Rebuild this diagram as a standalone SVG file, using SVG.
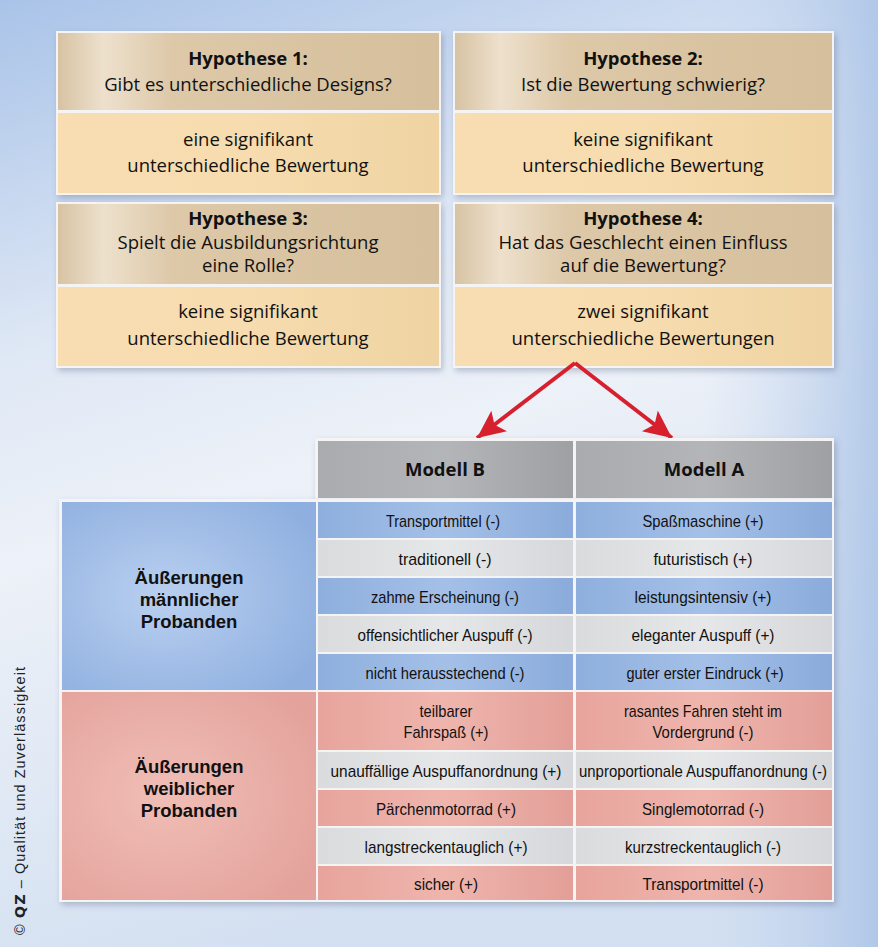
<svg xmlns="http://www.w3.org/2000/svg" width="878" height="947" viewBox="0 0 878 947">
<defs>
<linearGradient id="bg" x1="0" y1="0" x2="0.3" y2="1">
<stop offset="0" stop-color="#a9c3e8"/>
<stop offset="0.35" stop-color="#dfe8f5"/>
<stop offset="0.55" stop-color="#edf1f8"/>
<stop offset="1" stop-color="#d3e0f1"/>
</linearGradient>
<linearGradient id="bgR" x1="0" y1="0" x2="1" y2="0">
<stop offset="0.8" stop-color="#c5d6ee" stop-opacity="0"/>
<stop offset="1" stop-color="#a7c1e6" stop-opacity="0.8"/>
</linearGradient>
<linearGradient id="hd" x1="0" y1="0" x2="1" y2="0">
<stop offset="0" stop-color="#d7c3a3"/>
<stop offset="0.12" stop-color="#ede0cc"/>
<stop offset="0.3" stop-color="#ddc8a8"/>
<stop offset="1" stop-color="#d5bf9c"/>
</linearGradient>
<linearGradient id="lo" x1="0" y1="0" x2="1" y2="0">
<stop offset="0" stop-color="#f7ddb1"/>
<stop offset="0.5" stop-color="#f6dcaf"/>
<stop offset="1" stop-color="#efd3a2"/>
</linearGradient>
<linearGradient id="gr" x1="0" y1="0" x2="1" y2="0">
<stop offset="0" stop-color="#a9abae"/>
<stop offset="0.5" stop-color="#b3b5b8"/>
<stop offset="1" stop-color="#9ea0a3"/>
</linearGradient>
<radialGradient id="blueBlk" cx="0.4" cy="0.5" r="0.7">
<stop offset="0" stop-color="#b9cff0"/>
<stop offset="1" stop-color="#8eafdf"/>
</radialGradient>
<radialGradient id="redBlk" cx="0.4" cy="0.5" r="0.7">
<stop offset="0" stop-color="#f0beb6"/>
<stop offset="1" stop-color="#e3a29b"/>
</radialGradient>
<linearGradient id="bl" x1="0" y1="0" x2="1" y2="0">
<stop offset="0" stop-color="#8eafdd"/>
<stop offset="0.5" stop-color="#a4c0e8"/>
<stop offset="1" stop-color="#8aabdb"/>
</linearGradient>
<linearGradient id="rd" x1="0" y1="0" x2="1" y2="0">
<stop offset="0" stop-color="#e7a49c"/>
<stop offset="0.5" stop-color="#efb5ad"/>
<stop offset="1" stop-color="#e29f98"/>
</linearGradient>
<linearGradient id="gy" x1="0" y1="0" x2="1" y2="0">
<stop offset="0" stop-color="#dadbdd"/>
<stop offset="0.5" stop-color="#e6e7e9"/>
<stop offset="1" stop-color="#d6d7da"/>
</linearGradient>
<filter id="sh" x="-5%" y="-5%" width="110%" height="115%">
<feDropShadow dx="2" dy="3" stdDeviation="3" flood-color="#506080" flood-opacity="0.35"/>
</filter>
<marker id="ah" markerUnits="userSpaceOnUse" markerWidth="32" markerHeight="28" refX="28" refY="13" orient="auto">
<path d="M0,0 L28,13 L0,26 L6,13 Z" fill="#d7202e"/>
</marker>
</defs>
<style>
.t{font-family:"Open Sans","Noto Sans",sans-serif;font-size:18.5px;fill:#111;text-anchor:middle}
.b{font-weight:bold}
.lbl{font-family:"Liberation Sans","Noto Sans",sans-serif;font-size:18.5px;font-weight:bold;fill:#111;text-anchor:middle}
.c{font-family:"Liberation Sans","Noto Sans",sans-serif;font-size:17px;fill:#111;text-anchor:middle}
.hdr{fill:url(#hd)}
.low{fill:url(#lo)}
.frame{fill:#f4f4f4}
.bl{fill:url(#bl)}
.rd{fill:url(#rd)}
.gy{fill:url(#gy)}
</style>
<rect x="0" y="0" width="878" height="947" fill="url(#bg)"/>
<rect x="0" y="0" width="878" height="947" fill="url(#bgR)"/>

<g id="hyp1">
<rect class="frame" x="56" y="31" width="385" height="164" filter="url(#sh)"/>
<rect class="hdr" x="58" y="33" width="381" height="77"/>
<rect class="low" x="58" y="113" width="381" height="80"/>
<text class="t b" x="248" y="65">Hypothese 1:</text>
<text class="t" x="248" y="91">Gibt es unterschiedliche Designs?</text>
<text class="t" x="248" y="146">eine signifikant</text>
<text class="t" x="248" y="172">unterschiedliche Bewertung</text>
</g>
<g id="hyp2">
<rect class="frame" x="453" y="31" width="381" height="164" filter="url(#sh)"/>
<rect class="hdr" x="455" y="33" width="377" height="77"/>
<rect class="low" x="455" y="113" width="377" height="80"/>
<text class="t b" x="643" y="65">Hypothese 2:</text>
<text class="t" x="643" y="91">Ist die Bewertung schwierig?</text>
<text class="t" x="643" y="146">keine signifikant</text>
<text class="t" x="643" y="172">unterschiedliche Bewertung</text>
</g>
<g id="hyp3">
<rect class="frame" x="56" y="202" width="385" height="166" filter="url(#sh)"/>
<rect class="hdr" x="58" y="204" width="381" height="80"/>
<rect class="low" x="58" y="287" width="381" height="79"/>
<text class="t b" x="248" y="225">Hypothese 3:</text>
<text class="t" x="248" y="249">Spielt die Ausbildungsrichtung</text>
<text class="t" x="248" y="272">eine Rolle?</text>
<text class="t" x="248" y="318">keine signifikant</text>
<text class="t" x="248" y="345">unterschiedliche Bewertung</text>
</g>
<g id="hyp4">
<rect class="frame" x="453" y="202" width="381" height="166" filter="url(#sh)"/>
<rect class="hdr" x="455" y="204" width="377" height="80"/>
<rect class="low" x="455" y="287" width="377" height="79"/>
<text class="t b" x="643" y="225">Hypothese 4:</text>
<text class="t" x="643" y="249">Hat das Geschlecht einen Einfluss</text>
<text class="t" x="643" y="272">auf die Bewertung?</text>
<text class="t" x="643" y="318">zwei signifikant</text>
<text class="t" x="643" y="345">unterschiedliche Bewertungen</text>
</g>

<g id="connectors">
<line x1="575" y1="363" x2="477" y2="438" stroke="#d7202e" stroke-width="4" marker-end="url(#ah)"/>
<line x1="575" y1="363" x2="672" y2="438" stroke="#d7202e" stroke-width="4" marker-end="url(#ah)"/>
</g>

<g id="table">
<rect x="315" y="438" width="519" height="64" fill="#f4f4f4" filter="url(#sh)"/>
<rect x="59" y="499" width="775" height="403" fill="#f4f4f4" filter="url(#sh)"/>
<g id="modellB"><rect x="318" y="441" width="255" height="57" fill="url(#gr)"/><text class="t b" x="445" y="476">Modell B</text></g>
<g id="modellA"><rect x="576" y="441" width="256" height="57" fill="url(#gr)"/><text class="t b" x="704" y="476">Modell A</text></g>

<g id="maennlich"><rect x="62" y="502" width="254" height="188" fill="url(#blueBlk)"/>
<text class="lbl" x="189" y="584">Äußerungen<tspan x="189" dy="22">männlicher</tspan><tspan x="189" dy="22">Probanden</tspan></text></g>
<g id="weiblich"><rect x="62" y="692" width="254" height="208" fill="url(#redBlk)"/>
<text class="lbl" x="189" y="773">Äußerungen<tspan x="189" dy="22">weiblicher</tspan><tspan x="189" dy="22">Probanden</tspan></text></g>

<rect class="bl" x="318" y="502" width="255" height="36"/><rect class="bl" x="576" y="502" width="256" height="36"/>
<rect class="gy" x="318" y="540" width="255" height="36"/><rect class="gy" x="576" y="540" width="256" height="36"/>
<rect class="bl" x="318" y="578" width="255" height="36"/><rect class="bl" x="576" y="578" width="256" height="36"/>
<rect class="gy" x="318" y="616" width="255" height="36"/><rect class="gy" x="576" y="616" width="256" height="36"/>
<rect class="bl" x="318" y="654" width="255" height="36"/><rect class="bl" x="576" y="654" width="256" height="36"/>
<rect class="rd" x="318" y="692" width="255" height="58"/><rect class="rd" x="576" y="692" width="256" height="58"/>
<rect class="gy" x="318" y="752" width="255" height="36"/><rect class="gy" x="576" y="752" width="256" height="36"/>
<rect class="rd" x="318" y="790" width="255" height="36"/><rect class="rd" x="576" y="790" width="256" height="36"/>
<rect class="gy" x="318" y="828" width="255" height="36"/><rect class="gy" x="576" y="828" width="256" height="36"/>
<rect class="rd" x="318" y="866" width="255" height="34"/><rect class="rd" x="576" y="866" width="256" height="34"/>

<text class="c" x="443" y="527" textLength="114" lengthAdjust="spacingAndGlyphs">Transportmittel (-)</text>
<text class="c" x="703" y="527" textLength="121" lengthAdjust="spacingAndGlyphs">Spaßmaschine (+)</text>
<text class="c" x="445" y="565" textLength="93" lengthAdjust="spacingAndGlyphs">traditionell (-)</text>
<text class="c" x="703" y="565" textLength="99" lengthAdjust="spacingAndGlyphs">futuristisch (+)</text>
<text class="c" x="445" y="603" textLength="148" lengthAdjust="spacingAndGlyphs">zahme Erscheinung (-)</text>
<text class="c" x="703" y="603" textLength="137" lengthAdjust="spacingAndGlyphs">leistungsintensiv (+)</text>
<text class="c" x="445" y="641" textLength="175" lengthAdjust="spacingAndGlyphs">offensichtlicher Auspuff (-)</text>
<text class="c" x="703" y="641" textLength="143" lengthAdjust="spacingAndGlyphs">eleganter Auspuff (+)</text>
<text class="c" x="445" y="679" textLength="159" lengthAdjust="spacingAndGlyphs">nicht herausstechend (-)</text>
<text class="c" x="705" y="679" textLength="157" lengthAdjust="spacingAndGlyphs">guter erster Eindruck (+)</text>
<text class="c" x="446" y="717" textLength="53" lengthAdjust="spacingAndGlyphs">teilbarer</text>
<text class="c" x="446" y="738" textLength="85" lengthAdjust="spacingAndGlyphs">Fahrspaß (+)</text>
<text class="c" x="703" y="717" textLength="158" lengthAdjust="spacingAndGlyphs">rasantes Fahren steht im</text>
<text class="c" x="703" y="738" textLength="101" lengthAdjust="spacingAndGlyphs">Vordergrund (-)</text>
<text class="c" x="446" y="777" textLength="231" lengthAdjust="spacingAndGlyphs">unauffällige Auspuffanordnung (+)</text>
<text class="c" x="703" y="777" textLength="248" lengthAdjust="spacingAndGlyphs">unproportionale Auspuffanordnung (-)</text>
<text class="c" x="446" y="815" textLength="140" lengthAdjust="spacingAndGlyphs">Pärchenmotorrad (+)</text>
<text class="c" x="703" y="815" textLength="122" lengthAdjust="spacingAndGlyphs">Singlemotorrad (-)</text>
<text class="c" x="446" y="853" textLength="163" lengthAdjust="spacingAndGlyphs">langstreckentauglich (+)</text>
<text class="c" x="703" y="853" textLength="156" lengthAdjust="spacingAndGlyphs">kurzstreckentauglich (-)</text>
<text class="c" x="446" y="890" textLength="64" lengthAdjust="spacingAndGlyphs">sicher (+)</text>
<text class="c" x="703" y="890" textLength="121" lengthAdjust="spacingAndGlyphs">Transportmittel (-)</text>
</g>

<text transform="translate(25,935) rotate(-90)" font-family="Liberation Sans, sans-serif" font-size="14.5" fill="#222" textLength="268">© <tspan font-weight="bold" font-family="DejaVu Sans, sans-serif">QZ</tspan> – Qualität und Zuverlässigkeit</text>
</svg>
